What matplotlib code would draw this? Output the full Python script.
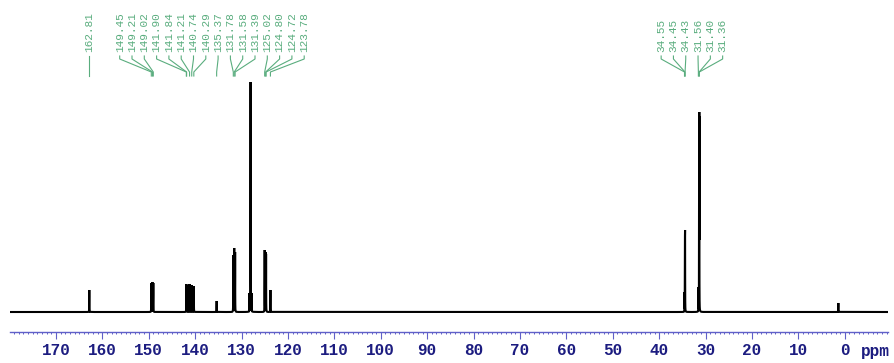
import numpy as np
import matplotlib
matplotlib.use("Agg")
import matplotlib.pyplot as plt
from matplotlib.ticker import MultipleLocator

# labelled 13C shifts (ppm), one list per label group
shift_groups = [
    [162.81],
    [149.45, 149.21, 149.02, 141.90, 141.84, 141.21, 140.74, 140.29,
     135.37, 131.78, 131.58, 131.39, 125.02, 124.80, 124.72, 123.78],
    [34.55, 34.45, 34.43, 31.56, 31.40, 31.36],
]

# line positions and intensities of the trace (arbitrary units)
peak_ppm = [162.81, 149.45, 149.21, 149.02, 141.90, 141.84, 141.21, 140.74,
            140.29, 135.37, 131.78, 131.58, 131.39, 128.30, 128.06, 127.82,
            125.02, 124.80, 124.72, 123.78, 34.55, 34.45, 34.43, 31.56,
            31.40, 31.36, 1.40]
peak_int = [22, 29, 30, 29, 28, 27, 28, 27,
            26, 11, 57, 64, 60, 19, 230, 19,
            62, 60, 58, 22, 20, 78, 82, 25,
            196, 200, 9]

# small foot under the solvent line
foot_ppm = 128.06
foot_int = 5

ppm_lo, ppm_hi = -9.3, 179.9
hwhm = 0.015

grid = np.arange(ppm_lo, ppm_hi, 0.0025)
x = np.sort(np.concatenate([grid, peak_ppm]))
lines = [h / (1 + ((x - p) / hwhm) ** 2) for p, h in zip(peak_ppm, peak_int)]
lines.append(foot_int / (1 + ((x - foot_ppm) / 0.12) ** 2))
y = np.max(lines, axis=0)

W, H = 895, 363
fig = plt.figure(figsize=(W / 100, H / 100), dpi=100)
# axes: bottom edge is the ppm ruler, 1 data unit in y = 1 pixel
ax = fig.add_axes([10 / W, (H - 331.7) / H, 878 / W, 331.7 / H])
ax.set_xlim(ppm_hi, ppm_lo)
ax.set_ylim(-19.7, 312)

ax.plot(x, y, color="black", lw=1.5, solid_joinstyle="miter")

for s in ("top", "left", "right"):
    ax.spines[s].set_visible(False)
ruler = "#6060c8"
navy = "#1c1c80"
ax.spines["bottom"].set_color(ruler)
ax.spines["bottom"].set_linewidth(1.0)
ax.yaxis.set_visible(False)
ax.xaxis.set_major_locator(MultipleLocator(10))
ax.xaxis.set_minor_locator(MultipleLocator(1))
ax.tick_params(axis="x", which="major", direction="out", length=4.8,
               width=0.8, color=ruler, pad=3.5, labelsize=11.5,
               labelcolor=navy)
ax.tick_params(axis="x", which="minor", direction="out", length=1.6,
               width=0.7, color=ruler)
for lab in ax.get_xticklabels():
    lab.set_fontfamily("Liberation Mono")
    lab.set_fontweight("bold")
fig.text(861 / W, 1 - 356 / H, "ppm", ha="left", va="baseline",
         fontsize=11.5, fontweight="bold", family="Liberation Mono",
         color=navy)

# peak labels with leader lines (y in pixel rows from the top)
green = "#5aad7e"
px_per_ppm = 878 / (ppm_hi - ppm_lo)
spacing = 12.3 / px_per_ppm


def row(py):
    return 312 - py


for grp in shift_groups:
    centre = np.mean(grp)
    n = len(grp)
    for i, s in enumerate(grp):
        xl = centre + (n - 1) / 2 * spacing - i * spacing
        ax.text(xl, row(52), f"{s:.2f}", rotation=90, ha="center",
                va="bottom", fontsize=8, family="Liberation Mono",
                color=green)
        ax.plot([xl, xl, s, s], [row(56), row(59), row(72), row(76)],
                color=green, lw=0.8, clip_on=False)

fig.savefig("out.png", dpi=100)
